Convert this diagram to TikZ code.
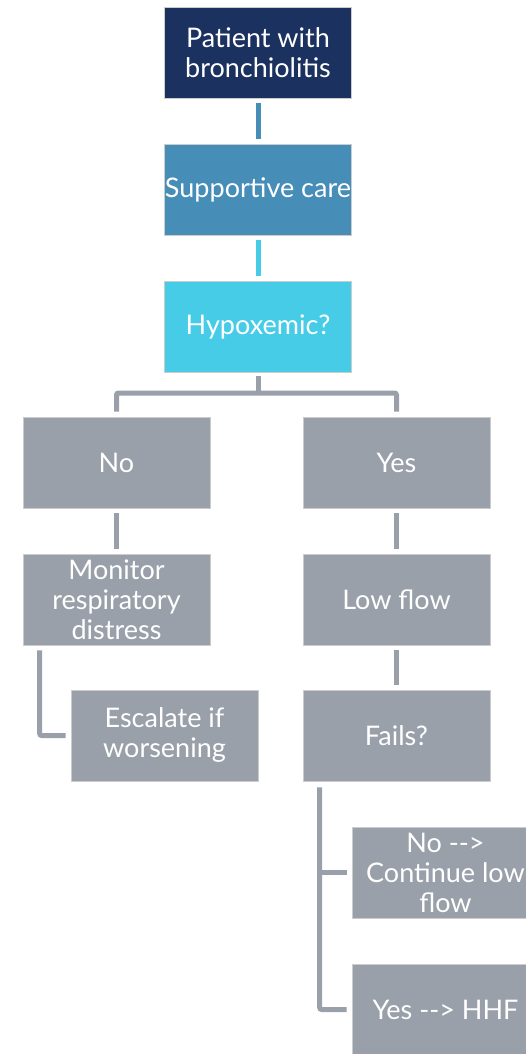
\documentclass[tikz,border=0pt]{standalone}
\usepackage{fontspec}
\setmainfont{Lato}
\begin{document}
\begin{tikzpicture}[x=1pt,y=-1pt,
  box/.style={minimum width=187pt,minimum height=91pt,inner sep=0pt,
    draw=white!80!black,line width=0.6pt,text=white,align=center,
    font=\fontsize{27}{30}\selectfont},
  navy/.style={box,fill=navyc},
  blue/.style={box,fill=bluec},
  cyan/.style={box,fill=cyanc},
  grey/.style={box,fill=greyc},
  link/.style={line width=5pt,draw=greyc,rounded corners=2pt},
]
\definecolor{navyc}{HTML}{1B315F}
\definecolor{bluec}{HTML}{468DB8}
\definecolor{cyanc}{HTML}{47CCE8}
\definecolor{greyc}{HTML}{99A0A9}
\useasboundingbox (0,0) rectangle (526,1054);
\clip (0,0) rectangle (526,1054);
\fill[white] (0,0) rectangle (526,1054);

% main column
\node[navy] (patient) at (258,52.5) {Patient with\\bronchiolitis};
\node[blue] (care) at (258,189.5) {Supportive care};
\node[cyan] (hypo) at (258,326.5) {Hypoxemic?};

% branches
\node[grey] (no) at (116.5,462.5) {No};
\node[grey] (yes) at (396.5,462.5) {Yes};
\node[grey] (monitor) at (116.5,599.5) {Monitor\\respiratory\\distress};
\node[grey] (low) at (396.5,599.5) {Low flow};
\node[grey] (escalate) at (164.5,735.5) {Escalate if\\worsening};
\node[grey] (fails) at (396.5,735.5) {Fails?};
\node[grey] (cont) at (445.5,872.5) {No -{}->\\Continue low\\flow};
\node[grey] (hhf) at (445.5,1009.5) {Yes -{}-> HHF};

% connectors (canvas shifts: positive yshift points up)
\draw[link,draw=bluec] ([yshift=-5pt]patient.south) -- ([yshift=5pt]care.north);
\draw[link,draw=cyanc] ([yshift=-5pt]care.south) -- ([yshift=5pt]hypo.north);
\coordinate (fork) at (258,393);
\draw[link] ([yshift=-4pt]hypo.south) -- (fork);
\draw[link] ([yshift=5pt]no.north) |- (fork) -| ([yshift=5pt]yes.north);
\draw[link] ([yshift=-5pt]no.south) -- ([yshift=5pt]monitor.north);
\draw[link] ([yshift=-5pt]yes.south) -- ([yshift=5pt]low.north);
\draw[link] ([yshift=-5pt]low.south) -- ([yshift=5pt]fails.north);
\draw[link] ([xshift=17pt,yshift=-5pt]monitor.south west) |- ([xshift=-5pt]escalate.west);
\draw[link] ([xshift=17pt,yshift=-6pt]fails.south west) |- ([xshift=-5pt]hhf.west);
\draw[link] ([xshift=17pt]fails.south west |- cont.west) -- ([xshift=-5pt]cont.west);
\end{tikzpicture}
\end{document}
